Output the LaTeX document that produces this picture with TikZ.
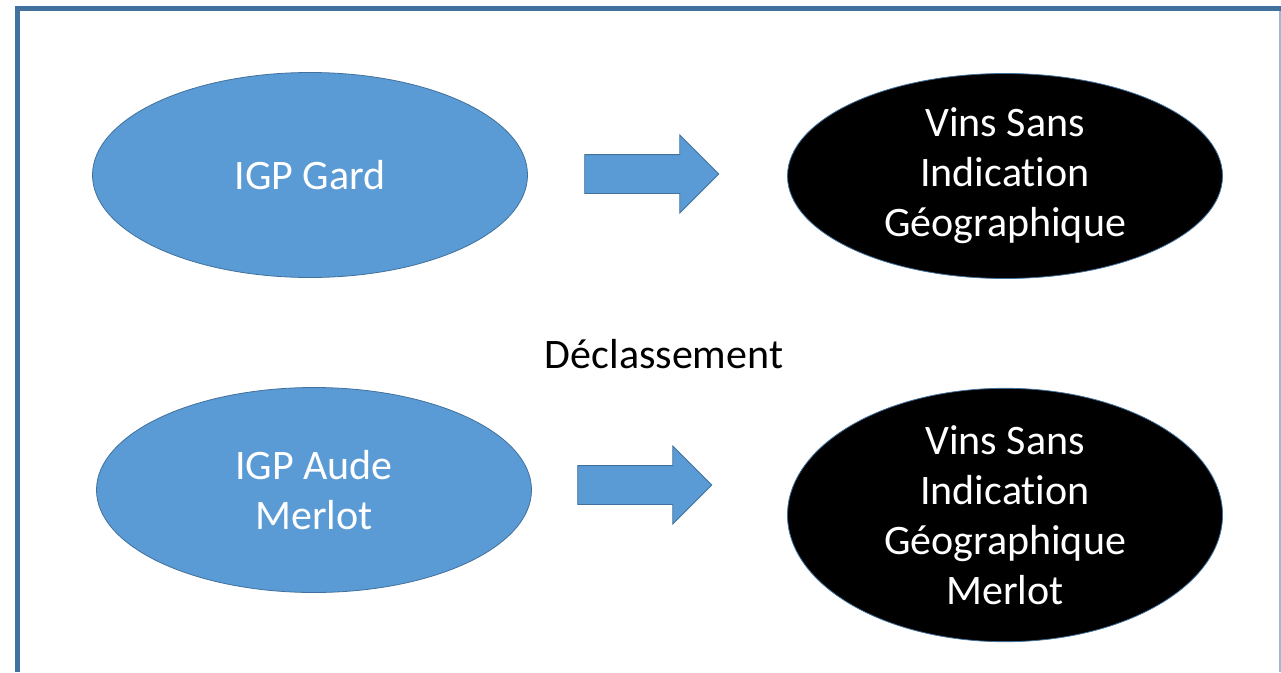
\documentclass[tikz,border=0pt]{standalone}
\usepackage{fontspec}
\setmainfont{Carlito}[Ligatures=NoCommon]
\usepackage{tikz}
\usetikzlibrary{shapes.geometric,shapes.arrows}

\definecolor{officeblue}{HTML}{5B9BD5}
\definecolor{officeline}{HTML}{41719C}
\definecolor{framelight}{HTML}{9DB9D3}

\begin{document}
\begin{tikzpicture}[x=1pt,y=-1pt,semithick]
        \tikzstyle{igpnode}=[
            ellipse,
            draw=officeline,
            thick,
            fill=officeblue,
            text=white,
            inner sep=0pt,
            minimum width=435pt,
            minimum height=205pt,
            align=center,
            font=\fontsize{42}{50}\selectfont
        ]
        \tikzstyle{vsignode}=[
            igpnode,
            fill=black
        ]
        \tikzstyle{blockarrow}=[
            single arrow,
            draw=officeline,
            thick,
            fill=officeblue,
            inner xsep=0pt,
            inner ysep=19pt,
            minimum height=134pt,
            minimum width=77pt,
            single arrow head extend=19.5pt,
            single arrow tip angle=90
        ]

        \useasboundingbox (0,0) rectangle (1281,672);
        \fill[white] (0,0) rectangle (1281,672);
        % cadre
        \draw[officeline, line width=5.5pt] (17.5,672) -- (17.5,8.5) -- (1281,8.5);
        \draw[framelight, line width=1.5pt] (1280,11) -- (1280,672);

        \node[igpnode] (gard) at (310,175){IGP Gard};
        \node[vsignode] (vsig) at (1005,176){Vins Sans\\Indication\\Géographique};
        \node[igpnode] (aude) at (314,490){IGP Aude\\Merlot};
        \node[vsignode] (vsigm) at (1005,515){Vins Sans\\Indication\\Géographique\\Merlot};

        \node[blockarrow] (flechA) at (642,174){};
        \node[blockarrow] (flechB) at (635,485){};

        \node[font=\fontsize{42}{50}\selectfont] (declass) at (664,354){Déclassement};

    \end{tikzpicture}
\end{document}
